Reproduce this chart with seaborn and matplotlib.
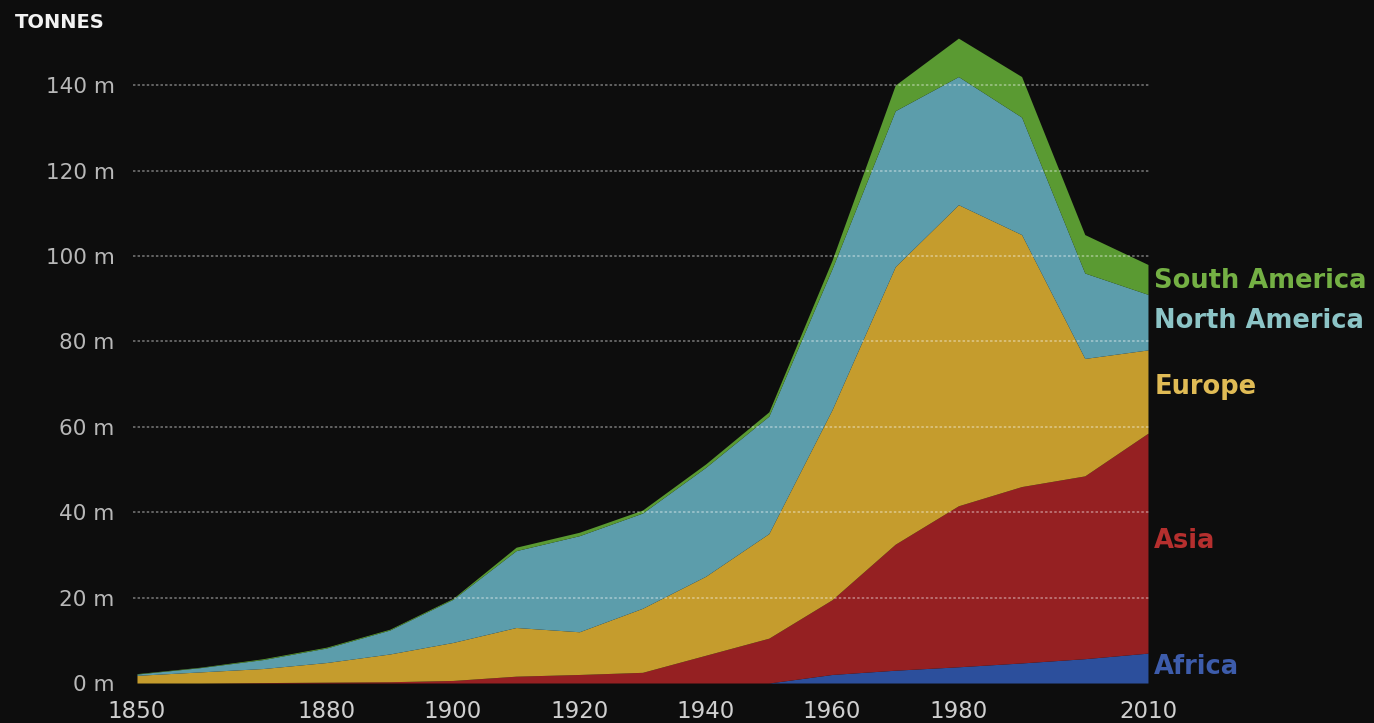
import numpy as np
import matplotlib
matplotlib.use("Agg")
import matplotlib.pyplot as plt
import seaborn as sns

# values in million tonnes
years = [1850, 1860, 1870, 1880, 1890, 1900, 1910, 1920, 1930,
         1940, 1950, 1960, 1970, 1980, 1990, 2000, 2010]
africa = [0, 0, 0, 0, 0, 0, 0, 0, 0, 0, 0, 2.0, 3.0, 3.8, 4.7, 5.7, 7.0]
asia = [0, 0, 0.1, 0.2, 0.3, 0.6, 1.6, 2.0, 2.5, 6.5, 10.5, 17.5, 29.5, 37.7, 41.3, 42.8, 51.5]
europe = [1.8, 2.6, 3.3, 4.6, 6.5, 8.9, 11.4, 10.0, 15.0, 18.5, 24.5, 44.5, 65.0, 70.5, 59.0, 27.5, 19.5]
north_america = [0.3, 1.0, 2.1, 3.4, 5.6, 10.1, 18.0, 22.5, 22.3, 25.5, 27.5, 33.0, 36.5, 30.0, 27.5, 20.0, 13.0]
south_america = [0.1, 0.1, 0.2, 0.2, 0.2, 0.2, 0.8, 0.8, 0.7, 0.8, 1.0, 2.0, 6.0, 9.0, 9.5, 9.0, 7.0]

series_names = ["Africa", "Asia", "Europe", "North America", "South America"]
fill_colors = ["#2c4f9c", "#952022", "#c59c2d", "#5c9dab", "#5a9a32"]
label_colors = ["#3d5cab", "#b52f2e", "#e0bb55", "#8cc4c6", "#74b044"]
label_y = [3.8, 33.3, 69.3, 84.7, 94.1]

y_ticks = [0, 20, 40, 60, 80, 100, 120, 140]
x_ticks = [1850, 1880, 1900, 1920, 1940, 1960, 1980, 2010]

bg = "#0d0d0d"
sns.set_style("dark", {"axes.facecolor": bg, "figure.facecolor": bg})
plt.rcParams["font.family"] = ["DejaVu Sans"]

fig = plt.figure(figsize=(13.74, 7.23), dpi=100)
ax = fig.add_axes([0.0997, 0.0553, 0.7358, 0.9156])
ax.set_facecolor(bg)

palette = sns.color_palette(fill_colors)
ax.stackplot(years, africa, asia, europe, north_america, south_america,
             colors=palette, linewidth=0, zorder=2)

ax.set_xlim(1850, 2010)
ax.set_ylim(0, 155)

# dotted grid drawn over the areas
for v in y_ticks[1:]:
    ax.hlines(v, 1849.4, 2010.3, colors="white", alpha=0.45,
              linestyles=(0, (1.6, 1.4)), linewidth=1.1, zorder=3, clip_on=False)

ax.set_yticks(y_ticks)
ax.set_yticklabels([f"{v} m" for v in y_ticks], fontsize=15.5, color="#b8b8b8")
ax.set_xticks(x_ticks)
ax.set_xticklabels([str(x) for x in x_ticks], fontsize=16.5, color="#cfcfcf")
ax.tick_params(axis="both", length=0)
ax.tick_params(axis="y", pad=16)
ax.tick_params(axis="x", pad=12)
for s in ax.spines.values():
    s.set_visible(False)
ax.grid(False)

fig.text(0.011, 0.969, "TONNES", fontsize=14, fontweight="bold",
         color="#f2f2f2", va="center", ha="left")

for name, col, yv in zip(series_names, label_colors, label_y):
    ax.text(2011, yv, name, color=col, fontsize=18.5, fontweight="bold",
            va="center", ha="left", clip_on=False)

fig.savefig("out.png", dpi=100, facecolor=bg)
